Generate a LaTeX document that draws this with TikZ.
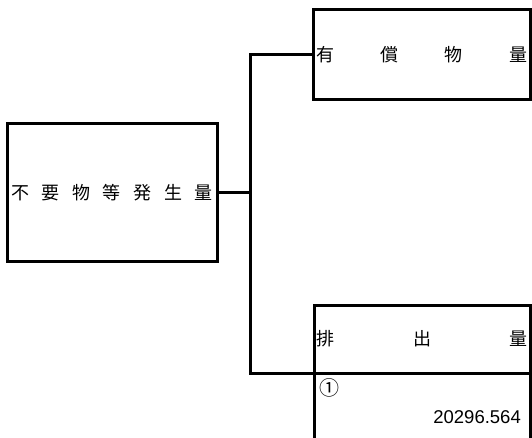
\documentclass[tikz,border=0pt]{standalone}
\usepackage{fontspec}
\setmainfont{Liberation Sans}
\newfontfamily\jpfont{Noto Sans CJK JP}
\usetikzlibrary{positioning}

\begin{document}
\begin{tikzpicture}[line cap=rect,line join=miter,x=1pt,y=-1pt,
  box/.style={draw,line width=3pt,inner sep=0pt,outer sep=0pt,font=\jpfont\fontsize{18}{18}\selectfont},
  link/.style={line width=3pt}]
\useasboundingbox (0,0) rectangle (532,438);
% boxes
\node[box,minimum width=210pt,minimum height=137pt] (total) at (112,192.5)
  {\makebox[202pt][s]{不\hfill 要\hfill 物\hfill 等\hfill 発\hfill 生\hfill 量}};
\node[box,minimum width=217pt,minimum height=90pt] (paid) at (421.5,55)
  {\makebox[211pt][s]{有\hfill 償\hfill 物\hfill 量}};
\node[box,minimum width=216pt,minimum height=68pt] (outlet) at (422,339)
  {\makebox[211pt][s]{排\hfill 出\hfill 量}};
\draw[link] (outlet.south west) -- ++(0,70);
\draw[link] (outlet.south east) -- ++(0,70);
\node[anchor=west,inner sep=0pt,font=\jpfont\fontsize{20}{20}\selectfont] (mark) at (319.5,388) {①};
\node[anchor=east,inner sep=0pt,font=\fontsize{18.5}{18.5}\selectfont] (value) at (521,417) {20296.564};
% connectors
\coordinate (fork) at (250,192.5);
\coordinate (upper) at (250,55);
\coordinate (lower) at (250,373);
\draw[link] (total.east) -- (fork);
\draw[link] (paid.west) -- (upper) -- (lower) -- (outlet.south west);
\end{tikzpicture}
\end{document}
